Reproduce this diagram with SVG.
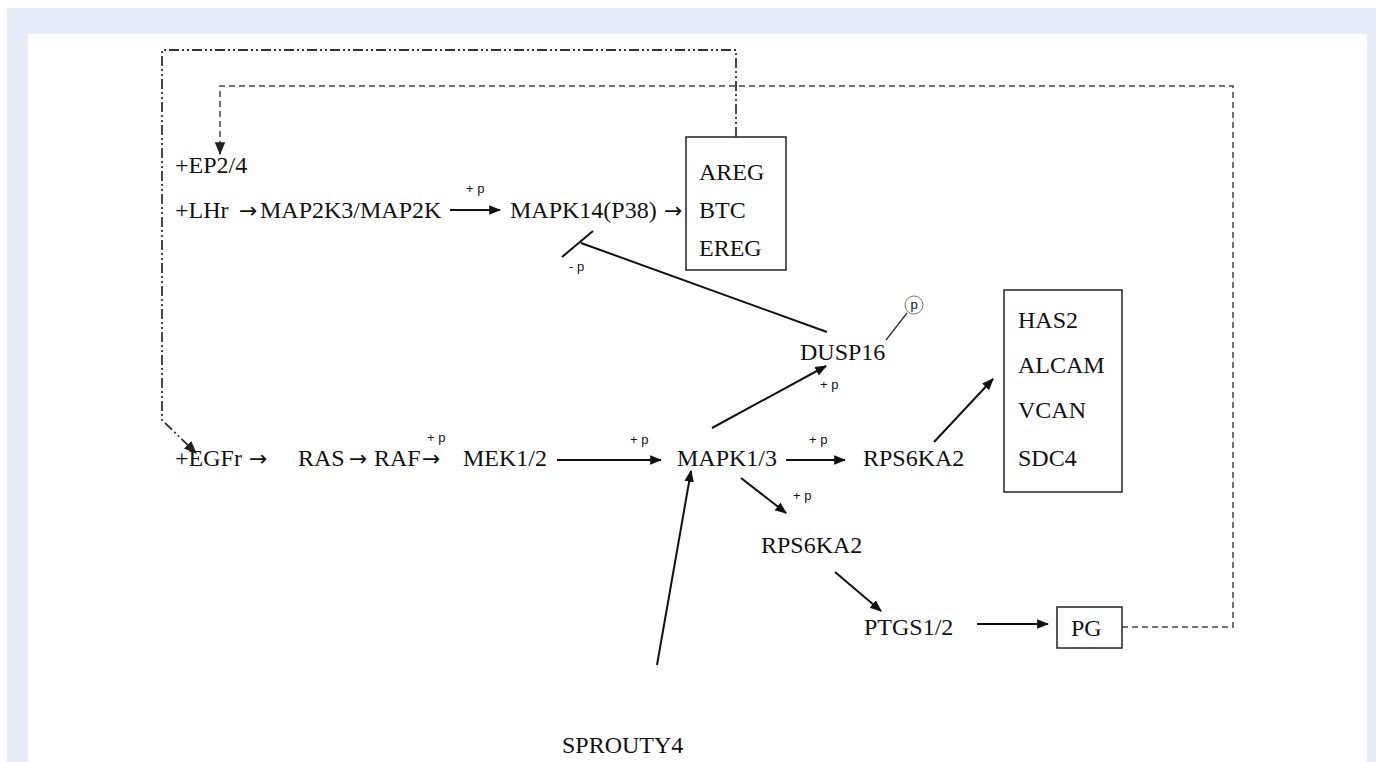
<svg xmlns="http://www.w3.org/2000/svg" width="1376" height="762" viewBox="0 0 1376 762">
<defs>
<style>
.t{font-family:"Liberation Serif","Times New Roman",serif;font-size:24px;fill:#111}
.ar{font-family:"DejaVu Sans","Liberation Sans",sans-serif;font-size:22px;fill:#111}
.s{font-family:"Liberation Sans",Arial,sans-serif;font-size:13px;fill:#111}
.ln{stroke:#111;stroke-width:2;fill:none}
.box{stroke:#222;stroke-width:1.5;fill:none}
.dd{stroke:#333;stroke-width:1.8;fill:none;stroke-dasharray:10 3 2 3 2 3}
.ds{stroke:#444;stroke-width:1.5;fill:none;stroke-dasharray:6 4}
</style>
<marker id="ah" viewBox="0 0 10 10" refX="9" refY="5" markerWidth="6" markerHeight="6" markerUnits="strokeWidth" orient="auto">
<path d="M0,1 L10,5 L0,9 Z" fill="#111"/>
</marker>
<marker id="ah2" viewBox="0 0 10 10" refX="9" refY="5" markerWidth="13" markerHeight="13" markerUnits="userSpaceOnUse" orient="auto">
<path d="M0,1 L10,5 L0,9 Z" fill="#222"/>
</marker>
</defs>
<rect x="0" y="0" width="1376" height="762" fill="#ffffff"/>
<rect x="7" y="8" width="1369" height="754" fill="#e5ecf7"/>
<rect x="28" y="34" width="1339" height="728" fill="#ffffff"/>

<g id="connectors">
<path class="dd" d="M736,137 V50 H162 V420 L196,453" marker-end="url(#ah2)"/>
<path class="ds" d="M1122,627 H1233 V86 H220 V154" marker-end="url(#ah2)"/>
<line class="ln" x1="450" y1="210" x2="500" y2="210" marker-end="url(#ah)"/>
<line class="ln" x1="827" y1="332" x2="581" y2="243"/>
<line class="ln" x1="562" y1="257" x2="593" y2="231"/>
<line x1="886" y1="340" x2="907" y2="313" stroke="#333" stroke-width="1.3"/>
<line class="ln" x1="712" y1="428" x2="826" y2="366" marker-end="url(#ah)"/>
<line class="ln" x1="934" y1="442" x2="993" y2="379" marker-end="url(#ah)"/>
<line class="ln" x1="557" y1="460" x2="661" y2="460" marker-end="url(#ah)"/>
<line class="ln" x1="786" y1="460" x2="845" y2="460" marker-end="url(#ah)"/>
<line class="ln" x1="741" y1="478" x2="786" y2="513" marker-end="url(#ah)"/>
<line class="ln" x1="835" y1="572" x2="881" y2="611" marker-end="url(#ah)"/>
<line class="ln" x1="977" y1="624" x2="1048" y2="624" marker-end="url(#ah)"/>
<line class="ln" x1="657" y1="665" x2="691" y2="471" marker-end="url(#ah)"/>
</g>

<g id="labels">
<text class="s" x="466" y="193">+ p</text>
<text class="s" x="569" y="271">- p</text>
<text class="s" x="820" y="389">+ p</text>
<text class="s" x="427" y="442">+ p</text>
<text class="s" x="630" y="444">+ p</text>
<text class="s" x="809" y="444">+ p</text>
<text class="s" x="793" y="500">+ p</text>
</g>

<g id="n-ep24"><text class="t" x="175" y="173">+EP2/4</text></g>
<g id="n-lhr"><text class="t" x="175" y="218">+LHr</text><text class="ar" x="239" y="218">→</text></g>
<g id="n-map2k"><text class="t" x="260" y="218">MAP2K3/MAP2K</text></g>
<g id="n-mapk14"><text class="t" x="510" y="218">MAPK14(P38)</text><text class="ar" x="664" y="218">→</text></g>
<g id="n-areg">
<rect class="box" x="686" y="137" width="100" height="133"/>
<text class="t" x="699" y="180">AREG</text>
<text class="t" x="699" y="218">BTC</text>
<text class="t" x="699" y="256">EREG</text>
</g>
<g id="n-dusp16">
<text class="t" x="800" y="360">DUSP16</text>
<circle cx="914" cy="305" r="9" fill="#fff" stroke="#777" stroke-width="1"/>
<text class="s" x="914" y="309" text-anchor="middle" font-size="11">p</text>
</g>
<g id="n-has2">
<rect class="box" x="1004" y="290" width="118" height="202"/>
<text class="t" x="1018" y="328">HAS2</text>
<text class="t" x="1018" y="373">ALCAM</text>
<text class="t" x="1018" y="418">VCAN</text>
<text class="t" x="1018" y="466">SDC4</text>
</g>
<g id="n-egfr"><text class="t" x="175" y="466">+EGFr</text><text class="ar" x="249" y="466">→</text></g>
<g id="n-ras"><text class="t" x="298" y="466">RAS</text><text class="ar" x="349" y="466">→</text></g>
<g id="n-raf"><text class="t" x="374" y="466">RAF</text><text class="ar" x="422" y="466">→</text></g>
<g id="n-mek"><text class="t" x="463" y="466">MEK1/2</text></g>
<g id="n-mapk13"><text class="t" x="677" y="466">MAPK1/3</text></g>
<g id="n-rps1"><text class="t" x="863" y="466">RPS6KA2</text></g>
<g id="n-rps2"><text class="t" x="761" y="553">RPS6KA2</text></g>
<g id="n-ptgs"><text class="t" x="864" y="635">PTGS1/2</text></g>
<g id="n-pg">
<rect class="box" x="1057" y="607" width="65" height="41"/>
<text class="t" x="1071" y="636">PG</text>
</g>
<g id="n-sprouty4"><text class="t" x="562" y="753">SPROUTY4</text></g>
</svg>
